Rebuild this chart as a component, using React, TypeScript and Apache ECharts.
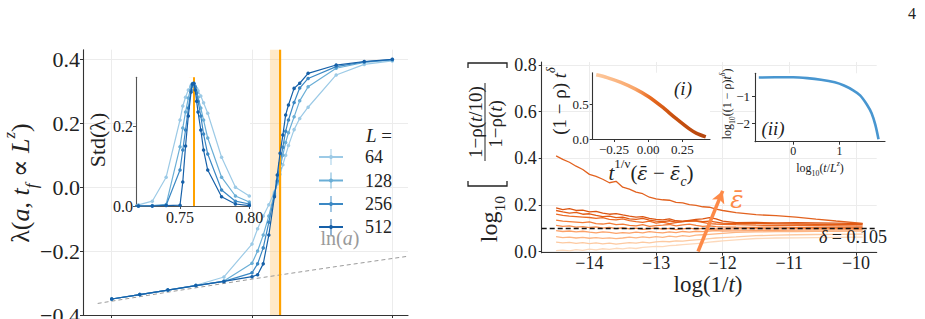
import React, { useEffect, useRef } from "react";
import * as echarts from "echarts";

// ---------- left panel: order parameter lambda vs a ----------
const aValues = [0.70, 0.71, 0.72, 0.73, 0.74, 0.75, 0.752, 0.754, 0.756, 0.758, 0.759, 0.760, 0.761, 0.762, 0.763, 0.765, 0.767, 0.77, 0.78, 0.79, 0.80];
const systemSizes = [64, 128, 256, 512];
const lambda64 = [-0.350, -0.336, -0.322, -0.307, -0.281, -0.178, -0.130, -0.090, -0.055, -0.015, 0.010, 0.040, 0.070, 0.100, 0.130, 0.180, 0.215, 0.250, 0.351, 0.384, 0.395];
const lambda128 = [-0.350, -0.336, -0.322, -0.308, -0.294, -0.238, -0.200, -0.150, -0.090, -0.020, 0.015, 0.060, 0.100, 0.140, 0.170, 0.220, 0.270, 0.314, 0.372, 0.390, 0.398];
const lambda256 = [-0.350, -0.336, -0.322, -0.308, -0.295, -0.268, -0.240, -0.190, -0.110, -0.025, 0.020, 0.075, 0.125, 0.175, 0.210, 0.265, 0.310, 0.340, 0.377, 0.392, 0.399];
const lambda512 = [-0.350, -0.336, -0.322, -0.308, -0.295, -0.280, -0.274, -0.240, -0.150, -0.030, 0.038, 0.106, 0.163, 0.226, 0.257, 0.309, 0.325, 0.356, 0.382, 0.393, 0.400];
const std64 = [0.000, 0.001, 0.003, 0.012, 0.072, 0.215, 0.250, 0.272, 0.290, 0.301, 0.305, 0.304, 0.300, 0.294, 0.288, 0.275, 0.258, 0.232, 0.122, 0.047, 0.025];
const std128 = [0.000, 0.000, 0.000, 0.001, 0.004, 0.148, 0.195, 0.235, 0.270, 0.298, 0.306, 0.304, 0.296, 0.285, 0.272, 0.245, 0.215, 0.170, 0.072, 0.025, 0.010];
const std256 = [0.000, 0.000, 0.000, 0.000, 0.002, 0.090, 0.140, 0.190, 0.245, 0.290, 0.304, 0.306, 0.298, 0.282, 0.262, 0.225, 0.180, 0.130, 0.040, 0.012, 0.005];
const std512 = [0.000, 0.000, 0.000, 0.000, 0.001, 0.002, 0.060, 0.150, 0.225, 0.285, 0.305, 0.307, 0.290, 0.262, 0.235, 0.190, 0.140, 0.090, 0.023, 0.005, 0.001];
const aCritical = 0.7585;
const aCriticalBand = [0.7564, 0.7606];
const lnAPoints = [0.695, 0.72, 0.75, 0.78, 0.8056];

// ---------- right panel: log10 ratio vs log(1/t) ----------
const logInvT = [-14.5, -14.4, -14.3, -14.2, -14.1, -14.0, -13.9, -13.8, -13.7, -13.6, -13.5, -13.4, -13.3, -13.2, -13.1, -13.0, -12.9, -12.8, -12.7, -12.6, -12.5, -12.4, -12.3, -12.2, -12.1, -12.0, -11.8, -11.5, -11.2, -10.9, -10.6, -10.3, -9.9];
const ratio01 = [0.004, 0.006, 0.003, 0.008, 0.005, 0.010, 0.007, 0.012, 0.009, 0.014, 0.011, 0.016, 0.013, 0.018, 0.020, 0.022, 0.021, 0.025, 0.027, 0.030, 0.032, 0.034, 0.036, 0.040, 0.043, 0.046, 0.050, 0.056, 0.058, 0.059, 0.060, 0.061, 0.062];
const ratio02 = [0.040, 0.037, 0.039, 0.035, 0.038, 0.034, 0.037, 0.033, 0.036, 0.032, 0.035, 0.038, 0.036, 0.040, 0.037, 0.041, 0.044, 0.042, 0.046, 0.045, 0.048, 0.050, 0.052, 0.055, 0.058, 0.060, 0.063, 0.068, 0.070, 0.072, 0.073, 0.074, 0.075];
const ratio03 = [0.064, 0.060, 0.062, 0.058, 0.061, 0.057, 0.060, 0.056, 0.059, 0.055, 0.058, 0.062, 0.059, 0.063, 0.060, 0.064, 0.061, 0.066, 0.063, 0.068, 0.065, 0.070, 0.072, 0.074, 0.076, 0.078, 0.082, 0.084, 0.085, 0.086, 0.087, 0.087, 0.088];
const ratio04 = [0.090, 0.086, 0.088, 0.084, 0.087, 0.083, 0.080, 0.084, 0.082, 0.078, 0.081, 0.079, 0.083, 0.080, 0.085, 0.082, 0.080, 0.084, 0.081, 0.086, 0.083, 0.087, 0.085, 0.088, 0.090, 0.088, 0.089, 0.090, 0.091, 0.092, 0.093, 0.093, 0.094];
const ratio05 = [0.112, 0.108, 0.110, 0.105, 0.107, 0.103, 0.106, 0.100, 0.104, 0.098, 0.102, 0.097, 0.100, 0.095, 0.098, 0.101, 0.096, 0.099, 0.094, 0.097, 0.100, 0.096, 0.099, 0.095, 0.097, 0.096, 0.097, 0.098, 0.097, 0.098, 0.099, 0.098, 0.098];
const ratio06 = [0.135, 0.130, 0.128, 0.126, 0.124, 0.127, 0.120, 0.118, 0.122, 0.115, 0.118, 0.112, 0.110, 0.115, 0.108, 0.111, 0.113, 0.116, 0.110, 0.114, 0.118, 0.112, 0.108, 0.110, 0.107, 0.106, 0.105, 0.104, 0.105, 0.104, 0.103, 0.103, 0.102];
const ratio07 = [0.160, 0.155, 0.152, 0.150, 0.148, 0.146, 0.142, 0.145, 0.138, 0.136, 0.140, 0.133, 0.128, 0.125, 0.130, 0.122, 0.126, 0.120, 0.124, 0.128, 0.132, 0.130, 0.125, 0.120, 0.118, 0.117, 0.115, 0.113, 0.112, 0.112, 0.111, 0.110, 0.109];
const ratio08 = [0.176, 0.170, 0.165, 0.168, 0.160, 0.162, 0.155, 0.150, 0.152, 0.145, 0.148, 0.140, 0.138, 0.142, 0.135, 0.130, 0.128, 0.132, 0.126, 0.128, 0.130, 0.133, 0.128, 0.130, 0.126, 0.122, 0.120, 0.121, 0.119, 0.118, 0.117, 0.116, 0.115];
const ratio09 = [0.187, 0.180, 0.184, 0.176, 0.178, 0.170, 0.172, 0.165, 0.160, 0.163, 0.157, 0.152, 0.148, 0.150, 0.142, 0.138, 0.136, 0.140, 0.132, 0.130, 0.134, 0.138, 0.140, 0.145, 0.140, 0.130, 0.124, 0.125, 0.123, 0.124, 0.123, 0.122, 0.120];
const ratio10 = [0.410, 0.395, 0.383, 0.366, 0.352, 0.331, 0.322, 0.310, 0.295, 0.301, 0.276, 0.268, 0.255, 0.248, 0.233, 0.226, 0.222, 0.220, 0.211, 0.209, 0.201, 0.198, 0.192, 0.190, 0.182, 0.176, 0.167, 0.158, 0.154, 0.148, 0.139, 0.131, 0.121];
const deltaExponent = 0.105;
const epsArrowFrom = [-12.37, 0.0];
const epsArrowTo = [-12.0, 0.26];

// inset (i): scaling collapse
const collapseX = [-0.38, -0.3, -0.2, -0.1, 0.0, 0.1, 0.2, 0.3, 0.35, 0.42];
const collapseY = [0.925, 0.885, 0.815, 0.725, 0.612, 0.465, 0.300, 0.145, 0.085, 0.030];
// inset (ii): finite-size collapse
const fssX = [-0.75, -0.4, 0.0, 0.3, 0.6, 0.9, 1.1, 1.3, 1.45, 1.6, 1.7, 1.78, 1.85];
const fssY = [-0.28, -0.27, -0.27, -0.30, -0.36, -0.46, -0.58, -0.76, -0.95, -1.30, -1.62, -2.05, -2.60];

const SERIF = "'Liberation Serif', 'DejaVu Serif', serif";
const GREEK = "'DejaVu Serif', serif";
const INK = "#222";
const BLUES = ["#9ccae6", "#6aaed6", "#3b88c4", "#1660a8"];
const ORANGES = ["#fdd9bb", "#fdc9a0", "#fdb583", "#fca168", "#f98e4e", "#f47c38", "#ec6a24", "#e35c15", "#dc5511", "#e2621f"];

const minus = (s: string) => s.replace("-", "\u2212");
const f1 = (v: number) => minus(v.toFixed(1));
const f2 = (v: number) => minus(v.toFixed(2));
const f0 = (v: number) => minus(String(Math.round(v)));

function mathRich(size: number, color = INK) {
  const base = { fontFamily: SERIF, fill: color, color };
  return {
    m: { ...base, fontSize: size, lineHeight: size * 1.5, verticalAlign: "middle" },
    i: { ...base, fontSize: size, fontStyle: "italic", lineHeight: size * 1.5, verticalAlign: "middle" },
    g: { ...base, fontFamily: GREEK, fontSize: size * 0.92, fontStyle: "italic", lineHeight: size * 1.5, verticalAlign: "middle" },
    sup: { ...base, fontSize: size * 0.65, fontStyle: "italic", lineHeight: size * 0.65, verticalAlign: "top" },
    supr: { ...base, fontSize: size * 0.62, lineHeight: size * 0.62, verticalAlign: "top" },
    sub: { ...base, fontSize: size * 0.65, fontStyle: "italic", lineHeight: size * 0.65, verticalAlign: "bottom" },
    subr: { ...base, fontSize: size * 0.65, lineHeight: size * 0.65, verticalAlign: "bottom" },
  };
}

function mathText(x: number, y: number, text: string, size: number, opts: any = {}) {
  const color = opts.color || INK;
  return {
    type: "text",
    x,
    y,
    rotation: opts.rotation || 0,
    z: 100,
    silent: true,
    style: {
      text,
      rich: mathRich(size, color),
      fontFamily: SERIF,
      fontSize: size,
      fill: color,
      align: opts.align || "center",
      textAlign: opts.align || "center",
      verticalAlign: "middle",
      textVerticalAlign: "middle",
    },
  };
}

function axisStyle(opts: any) {
  return {
    type: "value",
    gridIndex: opts.grid,
    min: opts.min,
    max: opts.max,
    z: opts.z || 0,
    axisLine: { show: true, onZero: false, lineStyle: { color: opts.lineColor || "#333", width: 1.1 } },
    axisTick: { show: true, length: 3, customValues: opts.ticks, lineStyle: { color: opts.lineColor || "#333" } },
    axisLabel: {
      show: opts.showLabels !== false,
      customValues: opts.ticks,
      formatter: opts.fmt,
      fontFamily: SERIF,
      fontSize: opts.fontSize,
      color: INK,
      margin: opts.margin,
      hideOverlap: false,
    },
    splitLine: { show: !!opts.split, lineStyle: { color: "#ececec", width: 1 } },
  };
}

export default function App() {
  const ref = useRef<HTMLDivElement>(null);

  useEffect(() => {
    if (!ref.current) return;
    const chart = echarts.init(ref.current, undefined, { renderer: "svg" });

    const lambdaSets = [lambda64, lambda128, lambda256, lambda512];
    const stdSets = [std64, std128, std256, std512];
    const ratioSets = [ratio01, ratio02, ratio03, ratio04, ratio05, ratio06, ratio07, ratio08, ratio09, ratio10];

    const series: any[] = [];

    // ln(a) reference with the critical band
    series.push({
      type: "line",
      xAxisIndex: 0,
      yAxisIndex: 0,
      data: lnAPoints.map((a) => [a, Math.log(a)]),
      symbol: "none",
      lineStyle: { color: "#9a9a9a", width: 1, type: [4, 3] },
      z: 1,
      silent: true,
      markArea: {
        silent: true,
        itemStyle: { color: "rgba(255,196,110,0.38)" },
        data: [[{ xAxis: aCriticalBand[0] }, { xAxis: aCriticalBand[1] }]],
      },
      markLine: {
        silent: true,
        symbol: "none",
        label: { show: false },
        lineStyle: { color: "#ffa200", width: 2, type: "solid" },
        data: [{ xAxis: aCritical }],
      },
    });

    systemSizes.forEach((L, k) => {
      series.push({
        type: "line",
        name: String(L),
        xAxisIndex: 0,
        yAxisIndex: 0,
        data: aValues.map((a, i) => [a, lambdaSets[k][i]]),
        symbol: "circle",
        symbolSize: 3.5,
        itemStyle: { color: BLUES[k] },
        lineStyle: { color: BLUES[k], width: 1.2 },
        z: 2 + k,
      });
    });

    // inset: standard deviation
    series.push({
      type: "line",
      xAxisIndex: 1,
      yAxisIndex: 1,
      data: [],
      symbol: "none",
      z: 5,
      silent: true,
      markArea: {
        silent: true,
        itemStyle: { color: "rgba(255,196,110,0.5)" },
        data: [[{ xAxis: aCriticalBand[0] }, { xAxis: aCriticalBand[1] }]],
      },
      markLine: {
        silent: true,
        symbol: "none",
        label: { show: false },
        lineStyle: { color: "#ffa200", width: 2, type: "solid" },
        data: [{ xAxis: aCritical }],
      },
    });
    systemSizes.forEach((L, k) => {
      series.push({
        type: "line",
        xAxisIndex: 1,
        yAxisIndex: 1,
        data: aValues.map((a, i) => [a, stdSets[k][i]]),
        symbol: "circle",
        symbolSize: 3.5,
        itemStyle: { color: BLUES[k] },
        lineStyle: { color: BLUES[k], width: 1.2 },
        z: 6 + k,
      });
    });

    // right panel curves
    ratioSets.forEach((vals, k) => {
      const s: any = {
        type: "line",
        xAxisIndex: 2,
        yAxisIndex: 2,
        data: logInvT.map((x, i) => [x, vals[i]]),
        symbol: "none",
        lineStyle: { color: ORANGES[k], width: 1.3 },
        z: 2 + k * 0.1,
      };
      if (k === 0) {
        s.markLine = {
          silent: true,
          symbol: "none",
          label: { show: false },
          lineStyle: { color: "#111", width: 1.3, type: [5, 3] },
          data: [{ yAxis: deltaExponent }],
        };
      }
      series.push(s);
    });
    series.push({
      type: "line",
      xAxisIndex: 2,
      yAxisIndex: 2,
      data: [],
      symbol: "none",
      z: 6,
      silent: true,
      markLine: {
        silent: true,
        symbol: ["none", "arrow"],
        symbolSize: [10, 12],
        label: { show: false },
        lineStyle: { color: "#fd8a48", width: 3.5, type: "solid" },
        data: [[{ coord: epsArrowFrom }, { coord: epsArrowTo }]],
      },
    });

    // inset (i)
    series.push({
      type: "line",
      xAxisIndex: 3,
      yAxisIndex: 3,
      data: collapseX.map((x, i) => [x, collapseY[i]]),
      symbol: "none",
      smooth: 0.3,
      z: 6,
      lineStyle: {
        width: 3.5,
        color: new echarts.graphic.LinearGradient(0, 0, 1, 0, [
          { offset: 0, color: "#fdc99e" },
          { offset: 0.35, color: "#f9a66a" },
          { offset: 0.5, color: "#e8691f" },
          { offset: 0.7, color: "#c9510f" },
          { offset: 1, color: "#b6460e" },
        ]),
      },
    });
    // inset (ii)
    series.push({
      type: "line",
      xAxisIndex: 4,
      yAxisIndex: 4,
      data: fssX.map((x, i) => [x, fssY[i]]),
      symbol: "none",
      smooth: 0.3,
      z: 6,
      lineStyle: { width: 2.6, color: "#4896d0" },
    });

    const legendRows = [157, 180.5, 204, 227];
    const legendEls: any[] = [];
    systemSizes.forEach((L, k) => {
      const y = legendRows[k];
      legendEls.push(
        { type: "line", z: 100, silent: true, shape: { x1: 319, y1: y, x2: 343, y2: y }, style: { stroke: BLUES[k], lineWidth: 2 } },
        { type: "line", z: 100, silent: true, shape: { x1: 331, y1: y - 8, x2: 331, y2: y + 8 }, style: { stroke: BLUES[k], lineWidth: 1.2, opacity: 0.8 } },
        { type: "circle", z: 100, silent: true, shape: { cx: 331, cy: y, r: 2 }, style: { fill: BLUES[k] } },
        mathText(365, y, String(L), 18, { align: "left" })
      );
    });

    const bracket = (pts: number[][]) => ({
      type: "polyline",
      z: 100,
      silent: true,
      shape: { points: pts },
      style: { stroke: INK, lineWidth: 1.3, fill: null },
    });

    const graphicEls: any[] = [
      mathText(20, 183, "{m|λ(}{i|a}{m|, }{i|t}{sub|f}{m| ∝ }{i|L}{sup|z}{m|)}", 26, { rotation: Math.PI / 2 }),
      mathText(97, 140, "{m|Std(λ)}", 22, { rotation: Math.PI / 2 }),
      mathText(366, 135, "{i|L}{m| =}", 19, { align: "left" }),
      mathText(340, 238, "{m|ln(}{i|a}{m|)}", 20, { color: "#9a9a9a" }),
      ...legendEls,
      // right panel y label
      mathText(489, 219, "{m|log}{subr|10}", 24, { rotation: Math.PI / 2 }),
      mathText(475, 122, "{m|1−ρ(}{i|t}{m|/10)}", 19, { rotation: Math.PI / 2 }),
      { type: "line", z: 100, silent: true, shape: { x1: 485, y1: 83, x2: 485, y2: 161 }, style: { stroke: INK, lineWidth: 1 } },
      mathText(495, 124, "{m|1−ρ(}{i|t}{m|)}", 19, { rotation: Math.PI / 2 }),
      bracket([[468, 181], [468, 186], [507, 186], [507, 181]]),
      bracket([[468, 68], [468, 63], [507, 63], [507, 68]]),
      mathText(708, 284, "{m|log(1/}{i|t}{m|)}", 23),
      mathText(887, 237, "{i|δ}{m| = 0.105}", 18, { align: "right" }),
      mathText(737, 199, "{g|ε̄}", 27, { color: "#fd8a48" }),
      // inset (i) labels
      mathText(559, 101, "{m|(1 − ρ) }{i|t}{sup|δ}", 19, { rotation: Math.PI / 2 }),
      mathText(651, 173, "{i|t}{supr|1/ν}{m|(}{g|ε̄}{m| − }{g|ε̄}{sub|c}{m|)}", 21),
      mathText(683, 88, "{i|(i)}", 19),
      // inset (ii) labels
      mathText(727, 104, "{m|log}{subr|10}{m|((1 − ρ)}{i|t}{sup|δ}{m|)}", 12, { rotation: Math.PI / 2 }),
      mathText(820, 168, "{m|log}{subr|10}{m|(}{i|t}{m|/}{i|L}{sup|z}{m|)}", 12),
      mathText(773, 128, "{i|(ii)}", 19),
      // page number
      mathText(912, 13, "{m|4}", 16),
    ];

    const gridBase = { containLabel: false, outerBoundsMode: "none" };
    const option: any = {
      animation: false,
      backgroundColor: "#fff",
      grid: [
        { ...gridBase, left: 83, top: 49.7, width: 325, height: 265.3 },
        { ...gridBase, left: 136, top: 77.3, width: 114, height: 128.7, show: true, backgroundColor: "#fff", borderWidth: 0, z: 3 },
        { ...gridBase, left: 541.7, top: 62, width: 335, height: 190.7 },
        { ...gridBase, left: 592.7, top: 72.7, width: 117.3, height: 66.3, show: true, backgroundColor: "#fff", borderWidth: 0, z: 3 },
        { ...gridBase, left: 755, top: 73.3, width: 130, height: 68.4, show: true, backgroundColor: "#fff", borderWidth: 0, z: 3 },
      ],
      xAxis: [
        axisStyle({ grid: 0, min: 0.68977, max: 0.8056, ticks: [0.70, 0.75, 0.80], fmt: f2, fontSize: 22, margin: 6, split: true, showLabels: false }),
        axisStyle({ grid: 1, min: 0.71825, max: 0.8005, ticks: [0.75, 0.80], fmt: f2, fontSize: 16, margin: 3, z: 4, lineColor: "#555" }),
        axisStyle({ grid: 2, min: -14.716, max: -9.689, ticks: [-14, -13, -12, -11, -10], fmt: f0, fontSize: 18, margin: 1, split: true }),
        axisStyle({ grid: 3, min: -0.4056, max: 0.451, ticks: [-0.25, 0, 0.25], fmt: f2, fontSize: 13, margin: 4, z: 4 }),
        axisStyle({ grid: 4, min: -0.833, max: 1.991, ticks: [0, 1], fmt: f0, fontSize: 12, margin: 3, z: 4 }),
      ],
      yAxis: [
        axisStyle({ grid: 0, min: -0.4, max: 0.43, ticks: [-0.4, -0.2, 0, 0.2, 0.4], fmt: f1, fontSize: 22, margin: 3, split: true }),
        axisStyle({ grid: 1, min: 0, max: 0.3218, ticks: [0, 0.2], fmt: f1, fontSize: 16, margin: 3, z: 4, lineColor: "#555" }),
        axisStyle({ grid: 2, min: -0.005, max: 0.8129, ticks: [0, 0.2, 0.4, 0.6, 0.8], fmt: f1, fontSize: 18, margin: 5, split: true }),
        axisStyle({ grid: 3, min: 0, max: 0.955, ticks: [0, 0.5], fmt: f1, fontSize: 13, margin: 4, z: 4 }),
        axisStyle({ grid: 4, min: -2.69, max: -0.12, ticks: [-2, -1], fmt: f0, fontSize: 13, margin: 5, z: 4 }),
      ],
      series,
      graphic: { elements: graphicEls },
    };

    chart.setOption(option);
    return () => chart.dispose();
  }, []);

  return (
    <div
      ref={ref}
      style={{ position: "fixed", left: 0, top: 0, width: 925, height: 319, background: "#fff" }}
    />
  );
}
